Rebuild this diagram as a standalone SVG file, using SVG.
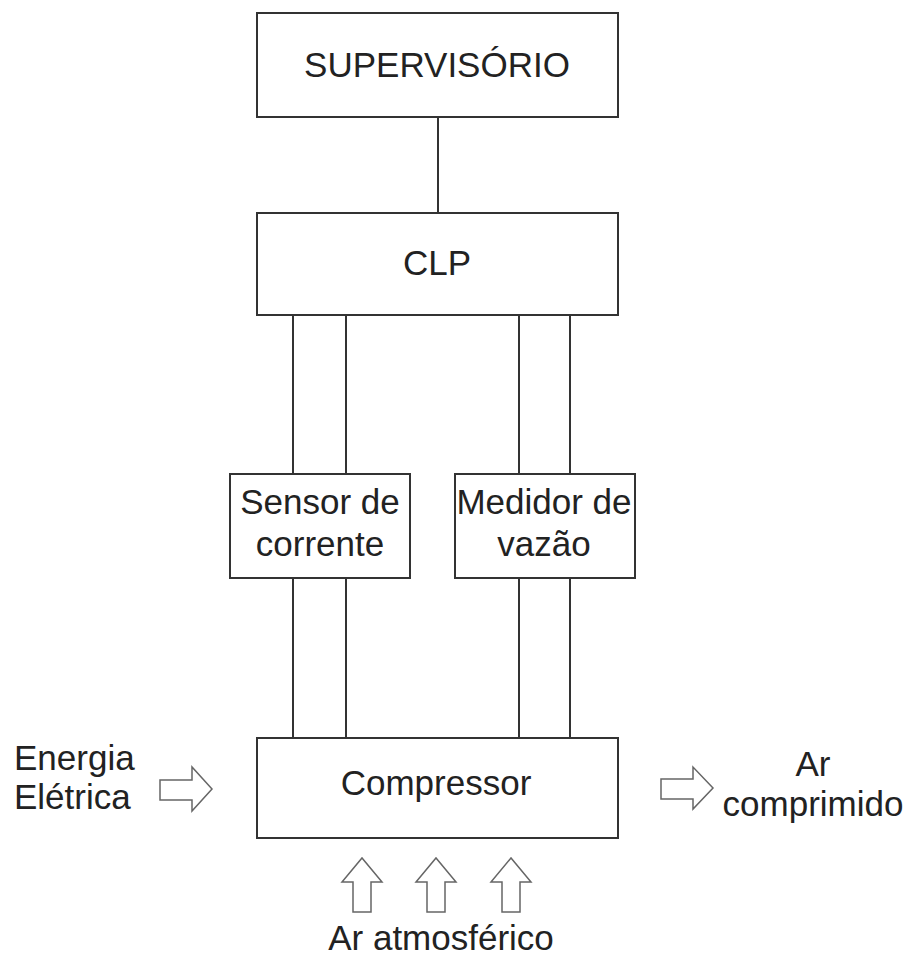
<svg xmlns="http://www.w3.org/2000/svg" width="909" height="959" viewBox="0 0 909 959">
<style>
.box{fill:#fff;stroke:#333;stroke-width:2}
.t{font-family:"Liberation Sans",Arial,sans-serif;font-size:35px;fill:#222}
.c{text-anchor:middle}
.ln{stroke:#333;stroke-width:2;fill:none}
.ar{fill:#fff;stroke:#666;stroke-width:1.5;stroke-linejoin:miter}
</style>
<rect width="909" height="959" fill="#fff"/>
<g id="connectors">
<line class="ln" x1="438" y1="117" x2="438" y2="213"/>
<line class="ln" x1="293" y1="315" x2="293" y2="474"/>
<line class="ln" x1="346" y1="315" x2="346" y2="474"/>
<line class="ln" x1="519" y1="315" x2="519" y2="474"/>
<line class="ln" x1="570" y1="315" x2="570" y2="474"/>
<line class="ln" x1="293" y1="578" x2="293" y2="738"/>
<line class="ln" x1="346" y1="578" x2="346" y2="738"/>
<line class="ln" x1="519" y1="578" x2="519" y2="738"/>
<line class="ln" x1="570" y1="578" x2="570" y2="738"/>
</g>
<g id="supervisorio">
<rect class="box" x="257" y="13" width="361" height="104"/>
<text class="t c" x="437" y="77">SUPERVISÓRIO</text>
</g>
<g id="clp">
<rect class="box" x="257" y="213" width="361" height="102"/>
<text class="t c" x="437" y="275">CLP</text>
</g>
<g id="sensor">
<rect class="box" x="230" y="474" width="180" height="104"/>
<text class="t c" x="320" y="514">Sensor de</text>
<text class="t c" x="320" y="556">corrente</text>
</g>
<g id="medidor">
<rect class="box" x="455" y="474" width="180" height="104"/>
<text class="t c" x="544" y="514">Medidor de</text>
<text class="t c" x="544" y="556">vazão</text>
</g>
<g id="compressor">
<rect class="box" x="257" y="738" width="361" height="100"/>
<text class="t c" x="436" y="795">Compressor</text>
</g>
<g id="energia">
<text class="t" x="14" y="770">Energia</text>
<text class="t" x="14" y="809">Elétrica</text>
<polygon class="ar" points="160,780 192,780 192,767 212,789 192,811 192,800 160,800"/>
</g>
<g id="ar-comprimido">
<polygon class="ar" points="661,779 693,779 693,767 713,788 693,809 693,799 661,799"/>
<text class="t c" x="813" y="776">Ar</text>
<text class="t c" x="813" y="816">comprimido</text>
</g>
<g id="ar-atmosferico">
<polygon class="ar" points="353,912 353,882 342,882 362,858 382,882 371,882 371,912"/>
<polygon class="ar" points="427,912 427,882 416,882 436,858 456,882 445,882 445,912"/>
<polygon class="ar" points="502,912 502,882 491,882 511,858 531,882 520,882 520,912"/>
<text class="t c" x="441" y="950">Ar atmosférico</text>
</g>
</svg>
